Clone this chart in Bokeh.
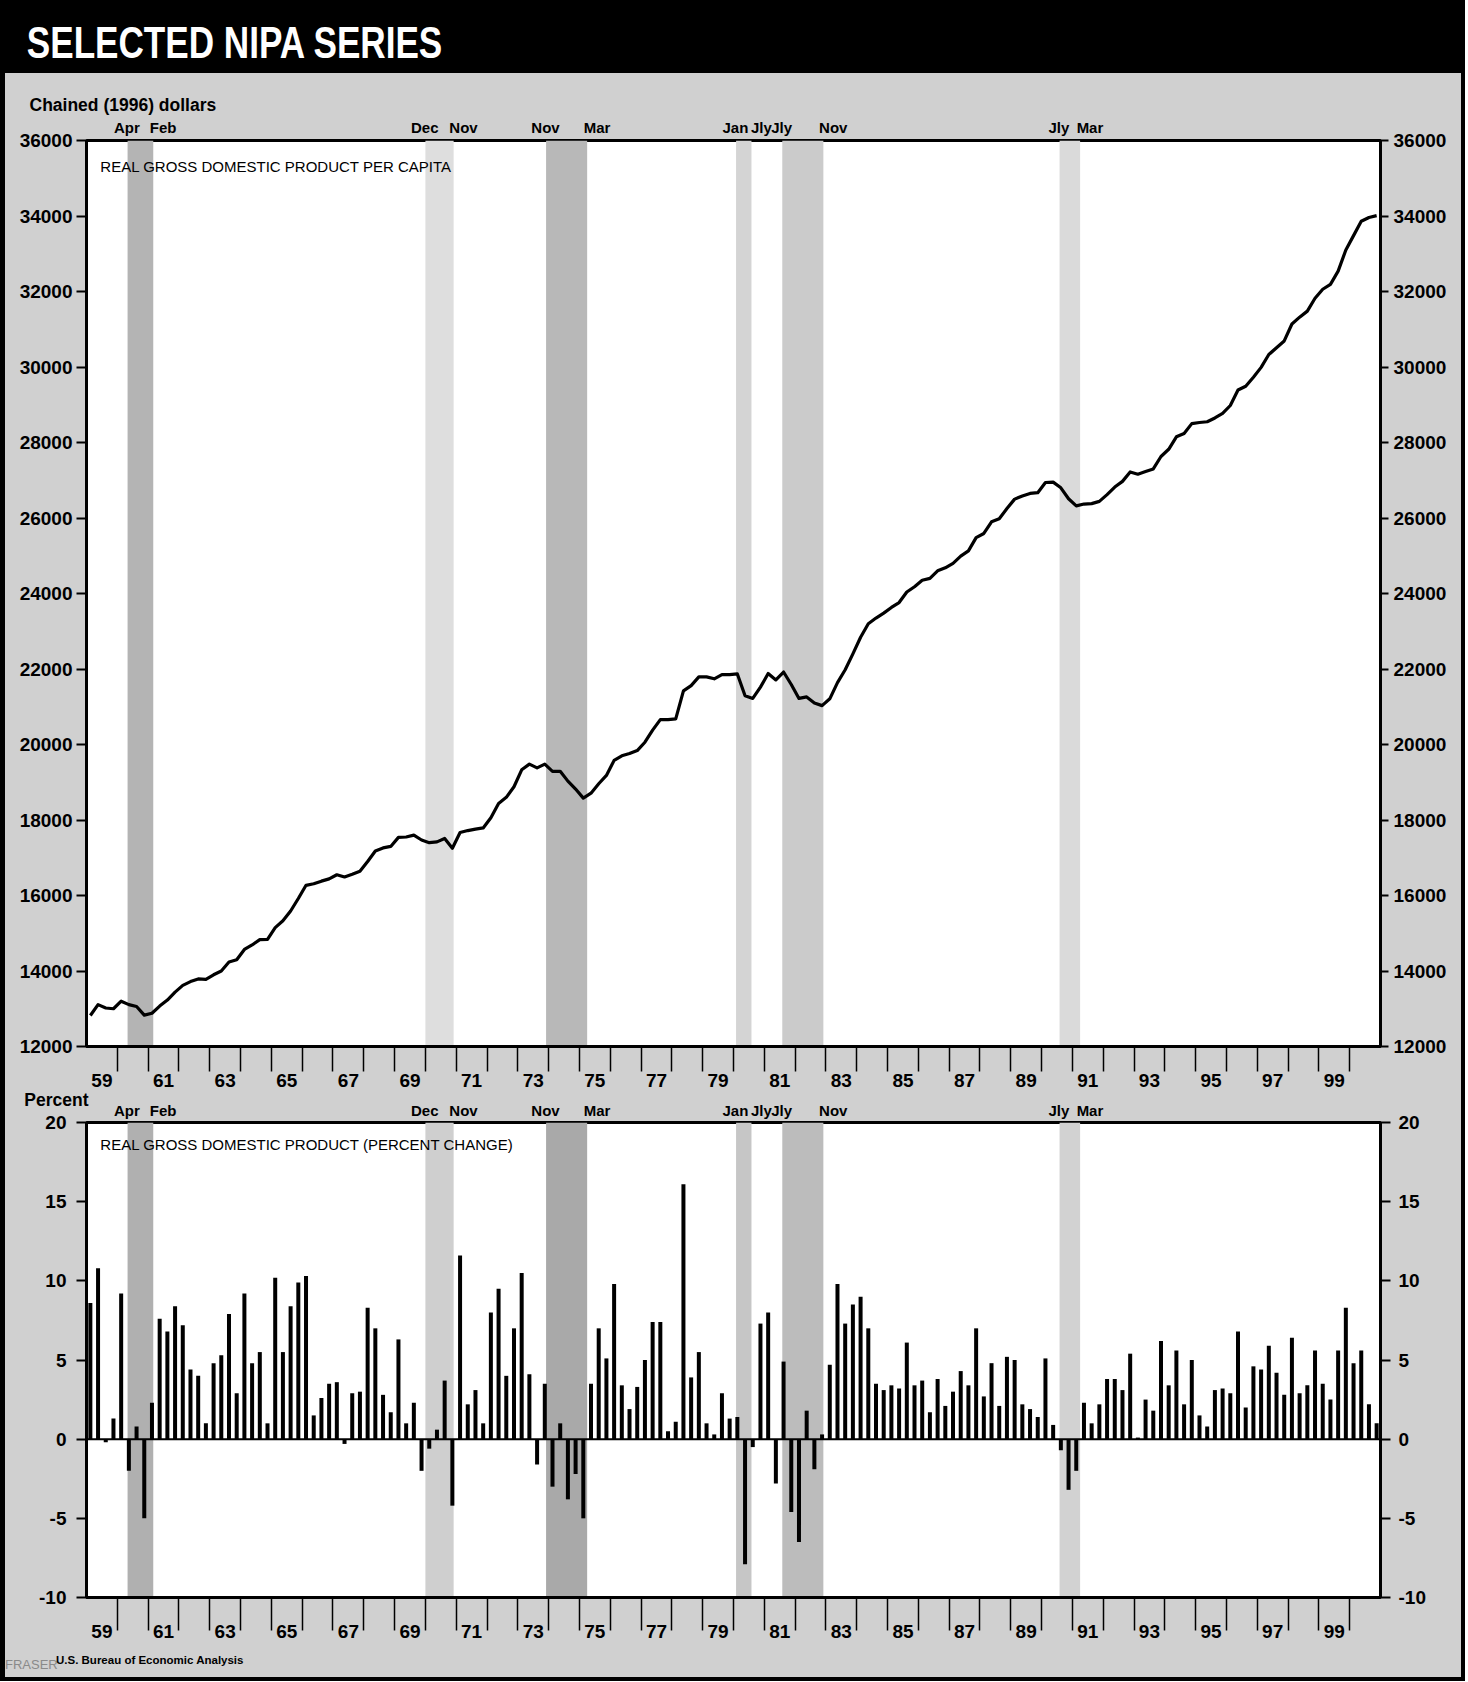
from bokeh.plotting import figure
from bokeh.models import (LinearAxis, FixedTicker, CustomJSTickFormatter, BoxAnnotation,
                          Span, Div, Range1d, AllLabels)
from bokeh.core.properties import value
from bokeh.layouts import column, row
from bokeh.embed import file_html
from bokeh.resources import INLINE

# ---------------- data (quarterly, 1959Q1 - 2000Q4) ----------------
first_year = 1959
quarters = [f"{first_year + i // 4}Q{i % 4 + 1}" for i in range(168)]

gdp_per_capita = [
    12820, 13110, 13020, 13000, 13200, 13110, 13060, 12830,   # 1959-60
    12880, 13070, 13230, 13440, 13620, 13720, 13790, 13780,   # 1961-62
    13900, 14000, 14240, 14300, 14570, 14690, 14830, 14840,   # 1963-64
    15150, 15330, 15590, 15920, 16270, 16310, 16380, 16440,   # 1965-66
    16550, 16490, 16560, 16640, 16900, 17180, 17260, 17300,   # 1967-68
    17540, 17550, 17600, 17470, 17400, 17420, 17510, 17250,   # 1969-70
    17670, 17720, 17760, 17790, 18060, 18440, 18600, 18880,   # 1971-72
    19330, 19480, 19380, 19480, 19290, 19290, 19030, 18820,   # 1973-74
    18580, 18710, 18960, 19180, 19580, 19700, 19760, 19840,   # 1975-76
    20060, 20380, 20660, 20660, 20680, 21420, 21560, 21790,   # 1977-78
    21790, 21740, 21850, 21850, 21870, 21290, 21220, 21520,   # 1979-80
    21880, 21710, 21920, 21590, 21220, 21260, 21100, 21030,   # 1981-82
    21210, 21640, 21980, 22400, 22840, 23200, 23350, 23480,   # 1983-84
    23630, 23760, 24040, 24180, 24350, 24400, 24600, 24680,   # 1985-86
    24800, 24990, 25130, 25480, 25590, 25900, 25980, 26250,   # 1987-88
    26500, 26580, 26650, 26670, 26940, 26950, 26800, 26510,   # 1989-90
    26320, 26370, 26380, 26440, 26620, 26820, 26970, 27220,   # 1991-92
    27160, 27230, 27300, 27630, 27820, 28150, 28240, 28500,   # 1993-94
    28530, 28550, 28650, 28770, 28980, 29390, 29490, 29730,   # 1995-96
    29990, 30330, 30510, 30690, 31140, 31320, 31480, 31820,   # 1997-98
    32060, 32190, 32540, 33100, 33480, 33860, 33960, 34010,   # 1999-2000
]

pct_change = [
    8.6, 10.8, -0.2, 1.3, 9.2, -2.0, 0.8, -5.0,      # 1959-60
    2.3, 7.6, 6.8, 8.4, 7.2, 4.4, 4.0, 1.0,          # 1961-62
    4.8, 5.3, 7.9, 2.9, 9.2, 4.8, 5.5, 1.0,          # 1963-64
    10.2, 5.5, 8.4, 9.9, 10.3, 1.5, 2.6, 3.5,        # 1965-66
    3.6, -0.3, 2.9, 3.0, 8.3, 7.0, 2.8, 1.7,         # 1967-68
    6.3, 1.0, 2.3, -2.0, -0.6, 0.6, 3.7, -4.2,       # 1969-70
    11.6, 2.2, 3.1, 1.0, 8.0, 9.5, 4.0, 7.0,         # 1971-72
    10.5, 4.1, -1.6, 3.5, -3.0, 1.0, -3.8, -2.2,     # 1973-74
    -5.0, 3.5, 7.0, 5.1, 9.8, 3.4, 1.9, 3.3,         # 1975-76
    5.0, 7.4, 7.4, 0.5, 1.1, 16.1, 3.9, 5.5,         # 1977-78
    1.0, 0.3, 2.9, 1.3, 1.4, -7.9, -0.5, 7.3,        # 1979-80
    8.0, -2.8, 4.9, -4.6, -6.5, 1.8, -1.9, 0.3,      # 1981-82
    4.7, 9.8, 7.3, 8.5, 9.0, 7.0, 3.5, 3.1,          # 1983-84
    3.4, 3.2, 6.1, 3.4, 3.7, 1.7, 3.8, 2.1,          # 1985-86
    3.0, 4.3, 3.4, 7.0, 2.7, 4.8, 2.1, 5.2,          # 1987-88
    5.0, 2.2, 1.9, 1.4, 5.1, 0.9, -0.7, -3.2,        # 1989-90
    -2.0, 2.3, 1.0, 2.2, 3.8, 3.8, 3.1, 5.4,         # 1991-92
    0.1, 2.5, 1.8, 6.2, 3.4, 5.6, 2.2, 5.0,          # 1993-94
    1.5, 0.8, 3.1, 3.2, 2.9, 6.8, 2.0, 4.6,          # 1995-96
    4.4, 5.9, 4.2, 2.8, 6.4, 2.9, 3.4, 5.6,          # 1997-98
    3.5, 2.5, 5.6, 8.3, 4.8, 5.6, 2.2, 1.0,          # 1999-2000
]

# recessions (peak month -> trough month)
months = ["Jan", "Feb", "Mar", "Apr", "May", "Jun", "Jly", "Aug", "Sep", "Oct", "Nov", "Dec"]
rec_peak_month = ["Apr", "Dec", "Nov", "Jan", "Jly", "Jly"]
rec_peak_year = [1960, 1969, 1973, 1980, 1981, 1990]
rec_trough_month = ["Feb", "Nov", "Mar", "Jly", "Nov", "Mar"]
rec_trough_year = [1961, 1970, 1975, 1980, 1982, 1991]

year_ticks = list(range(1960, 2001))
label_years = list(range(1959, 2000, 2))
top_yticks = list(range(12000, 36001, 2000))
bot_yticks = [-10, -5, 0, 5, 10, 15, 20]

# ---------------- derived positions ----------------
xq = [int(q[:4]) + (int(q[-1]) - 1) / 4 + 0.125 for q in quarters]
rec_start = [y + (months.index(m) + 1) / 12 for y, m in zip(rec_peak_year, rec_peak_month)]
rec_end = [y + (months.index(m) + 1) / 12 for y, m in zip(rec_trough_year, rec_trough_month)]
month_pos, month_txt = [], []
for s, e, pm, tm in zip(rec_start, rec_end, rec_peak_month, rec_trough_month):
    month_pos += [round(s - 0.02, 3), round(e + 0.32, 3)]
    month_txt += [pm, tm]

# ---------------- styling ----------------
W = 1456          # content width (between the black side rules)
BG = "#d0d0d0"
FONT = "Liberation Sans"
band_top_colors = ["#b4b4b4", "#dedede", "#b8b8b8", "#d4d4d4", "#cbcbcb", "#dadada"]
band_bot_colors = ["#b0b0b0", "#cfcfcf", "#a9a9a9", "#c6c6c6", "#bcbcbc", "#d2d2d2"]
year_fmt = CustomJSTickFormatter(code="return String(Math.floor(tick) % 100).padStart(2, '0');")
x_shared = Range1d(1959, 2001)


def style_y(ax, ticks, tick_out, standoff):
    ax.ticker = FixedTicker(ticks=ticks)
    ax.major_label_overrides = {t: str(t) for t in ticks}
    ax.major_label_text_font = FONT
    ax.major_label_text_font_style = "bold"
    ax.major_label_text_font_size = "19px"
    ax.major_label_text_color = "black"
    ax.major_tick_out = tick_out
    ax.major_tick_in = 0
    ax.major_tick_line_width = 2
    ax.major_tick_line_color = "black"
    ax.minor_tick_line_color = None
    ax.axis_line_width = 3
    ax.axis_line_color = "black"
    ax.major_label_standoff = standoff


def style_x(ax, minor_out, standoff):
    ax.ticker = FixedTicker(ticks=[y + 0.5 for y in label_years], minor_ticks=year_ticks)
    ax.formatter = year_fmt
    ax.major_tick_line_color = None
    ax.major_tick_out = 0
    ax.major_tick_in = 0
    ax.minor_tick_out = minor_out
    ax.minor_tick_in = 0
    ax.minor_tick_line_color = "black"
    ax.minor_tick_line_width = 1.5
    ax.major_label_text_font = FONT
    ax.major_label_text_font_style = "bold"
    ax.major_label_text_font_size = "19px"
    ax.major_label_text_color = "black"
    ax.major_label_standoff = standoff
    ax.axis_line_width = 3
    ax.axis_line_color = "black"


def make_fig(height, yr, top_b, bot_b, title=None, margin=0):
    p = figure(width=W, height=height, x_range=x_shared, y_range=yr,
               title=title, output_backend="svg", toolbar_location=None,
               min_border_left=81, min_border_right=81,
               min_border_top=top_b, min_border_bottom=bot_b,
               background_fill_color="white", border_fill_color=None,
               outline_line_color="black", outline_line_width=3, margin=margin)
    p.xgrid.visible = False
    p.ygrid.visible = False
    return p


def add_bands(p, colors):
    for s, e, c in zip(rec_start, rec_end, colors):
        p.add_layout(BoxAnnotation(left=s, right=e, fill_color=c, fill_alpha=1.0,
                                   line_color=None, level="underlay"))


def panel_name(p, text, y):
    p.text(x=[1959.45], y=[y], text=[text], text_baseline="middle",
           text_font=value(FONT), text_font_size="15px", text_color="black")


# ---------------- title bar & black rules ----------------
title_html = ('<div style="font-family:\'Liberation Sans\',Arial,sans-serif;font-weight:bold;'
              'font-size:45px;color:white;line-height:52px;padding:17px 0 0 28px;'
              'white-space:nowrap;transform:scaleX(0.78);transform-origin:0 0;">'
              'SELECTED NIPA SERIES</div>')
title_bar = Div(text=title_html, width=W, height=73, margin=0,
                styles={"background-color": "black", "overflow": "hidden"})
left_rule = Div(text="", width=5, height=1681, margin=0, styles={"background-color": "black"})
right_rule = Div(text="", width=4, height=1681, margin=0, styles={"background-color": "black"})
bottom_rule = Div(text="", width=W, height=4, margin=0, styles={"background-color": "black"})

# ---------------- top panel: real GDP per capita ----------------
top = make_fig(1020, Range1d(12000, 36000), 67, 47, "Chained (1996) dollars")
top.title.align = "left"
top.title.offset = -57
top.title.standoff = 2
top.title.text_font = FONT
top.title.text_font_style = "bold"
top.title.text_font_size = "17.5px"
top.title.text_color = "black"
add_bands(top, band_top_colors)
top.line(xq, gdp_per_capita, line_color="black", line_width=3.2, line_join="round")
style_y(top.yaxis[0], top_yticks, 10, 4)
ry = LinearAxis()
top.add_layout(ry, "right")
style_y(ry, top_yticks, 8, 5)
style_x(top.xaxis[0], 25, 2)
max_ = LinearAxis(ticker=FixedTicker(ticks=month_pos, minor_ticks=[]),
                  major_label_overrides={p_: t for p_, t in zip(month_pos, month_txt)},
                  major_label_policy=AllLabels(), axis_line_color=None,
                  major_tick_line_color=None, minor_tick_line_color=None,
                  major_tick_out=0, major_tick_in=0, major_label_standoff=5,
                  major_label_text_font=FONT, major_label_text_font_style="bold",
                  major_label_text_font_size="15px", major_label_text_color="black")
top.add_layout(max_, "above")
panel_name(top, "REAL GROSS DOMESTIC PRODUCT PER CAPITA", 35311)

# ---------------- strip between panels: "Percent" + recession months ----------------
# transparent strip spanning 1083..1120 (overlaps the top panel's border by 10px)
strip = figure(width=W, height=37, x_range=x_shared, y_range=Range1d(0, 1),
               output_backend="svg", toolbar_location=None, x_axis_location=None,
               min_border_left=81, min_border_right=81, min_border_top=0, min_border_bottom=0,
               background_fill_color=None, border_fill_color=None, outline_line_color=None,
               margin=(-10, 0, 0, 0))
strip.xgrid.visible = False
strip.ygrid.visible = False
sy = strip.yaxis[0]
sy.ticker = FixedTicker(ticks=[0.56])
sy.major_label_overrides = {0.56: "Percent"}
sy.axis_line_color = None
sy.major_tick_line_color = None
sy.minor_tick_line_color = None
sy.major_tick_out = 0
sy.major_label_standoff = -2
sy.major_label_text_font = FONT
sy.major_label_text_font_style = "bold"
sy.major_label_text_font_size = "17.5px"
sy.major_label_text_color = "black"
strip.text(x=month_pos, y=[0.27] * len(month_pos), text=month_txt, text_align="center",
           text_baseline="middle", text_font=value(FONT), text_font_style="bold",
           text_font_size="15px", text_color="black")

# ---------------- bottom panel: percent change (overlaps the strip by 14px) ----------------
bot = make_fig(540, Range1d(-10, 20), 16, 49, margin=(-14, 0, 0, 0))
add_bands(bot, band_bot_colors)
bot.add_layout(Span(location=0, dimension="width", line_color="black", line_width=2))
bot.vbar(x=xq, top=pct_change, bottom=0, width=0.13, fill_color="black", line_color=None)
style_y(bot.yaxis[0], bot_yticks, 10, 10)
ry2 = LinearAxis()
bot.add_layout(ry2, "right")
style_y(ry2, bot_yticks, 10, 8)
style_x(bot.xaxis[0], 33, -6)
panel_name(bot, "REAL GROSS DOMESTIC PRODUCT (PERCENT CHANGE)", 18.61)

# ---------------- footer ----------------
footer_html = ('<div style="position:relative;width:1456px;height:31px;overflow:hidden;">'
               '<span style="position:absolute;left:0px;top:11px;font:13px \'Liberation Sans\','
               'Arial,sans-serif;color:#8a8a8a;white-space:nowrap;">FRASER</span>'
               '<span style="position:absolute;left:51px;top:8px;font:bold 11.5px '
               '\'Liberation Sans\',Arial,sans-serif;color:black;white-space:nowrap;">'
               'U.S. Bureau of Economic Analysis</span></div>')
footer = Div(text=footer_html, width=W, height=31, margin=0,
             styles={"background-color": BG, "overflow": "hidden"})

content = column(title_bar, top, strip, bot, footer, bottom_rule, spacing=0,
                 styles={"background-color": BG})
layout = row(left_rule, content, right_rule, spacing=0)
open("out.html", "w").write(file_html(layout, INLINE))
